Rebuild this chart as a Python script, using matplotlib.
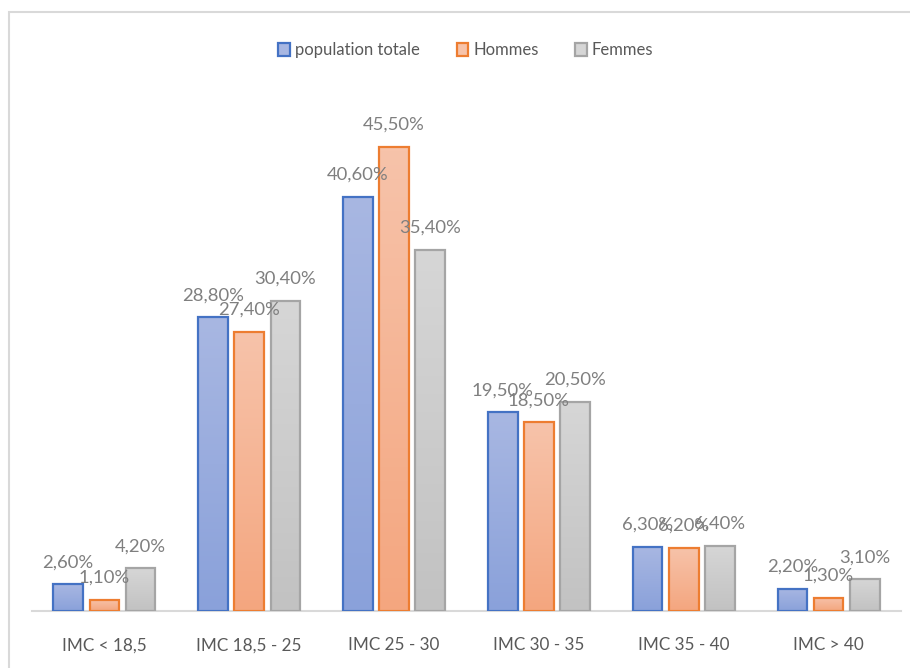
import numpy as np
import matplotlib
matplotlib.use("Agg")
import matplotlib.pyplot as plt
from matplotlib.colors import LinearSegmentedColormap
from matplotlib.patches import Rectangle, Patch

categories = ["IMC < 18,5", "IMC 18,5 - 25", "IMC 25 - 30", "IMC 30 - 35", "IMC 35 - 40", "IMC > 40"]
series = ["population totale", "Hommes", "Femmes"]
pop_totale = [2.6, 28.8, 40.6, 19.5, 6.3, 2.2]
hommes = [1.1, 27.4, 45.5, 18.5, 6.2, 1.3]
femmes = [4.2, 30.4, 35.4, 20.5, 6.4, 3.1]

edge_cols = ["#4472c4", "#ed7d31", "#a5a5a5"]
grad_top = ["#a8b7e2", "#f7c3aa", "#d6d6d6"]
grad_bot = ["#8aa1da", "#f4a67f", "#c2c2c2"]

plt.rcParams["font.family"] = ["Lato", "DejaVu Sans"]

fig = plt.figure(figsize=(9.1, 6.68), dpi=100)
W, H = 910, 668
ax = fig.add_axes([32 / W, (H - 611) / H, (901 - 32) / W, (611 - 101) / H])

x = np.arange(len(categories))
step, bw = 0.25, 0.205
handles = []
for i, vals in enumerate([pop_totale, hommes, femmes]):
    cmap = LinearSegmentedColormap.from_list(f"g{i}", [grad_bot[i], grad_top[i]])
    pos = x + (i - 1) * step
    bars = ax.bar(pos, vals, width=bw, facecolor="none", edgecolor=edge_cols[i],
                  linewidth=1.6, zorder=3)
    for b, v in zip(bars, vals):
        x0 = b.get_x()
        grad = np.linspace(0, 1, 100).reshape(-1, 1)
        im = ax.imshow(grad, cmap=cmap, origin="lower", aspect="auto",
                       extent=[x0, x0 + bw, 0, v], zorder=2)
        im.set_clip_path(b)
        ax.annotate(f"{v:.2f}".replace(".", ",") + "%", (b.get_x() + bw / 2, v),
                    xytext=(0, 10), textcoords="offset points", ha="center",
                    va="bottom", fontsize=13.3, color="#7f7f7f", zorder=4)
    handles.append(Patch(facecolor=grad_top[i], edgecolor=edge_cols[i], linewidth=1.6,
                         label=series[i]))

ax.set_xlim(-0.5, len(categories) - 0.5)
ax.set_ylim(0, 50)
ax.set_xticks(x)
ax.set_xticklabels(categories, fontsize=12.3, color="#595959")
ax.tick_params(axis="x", length=0, pad=19)
ax.set_yticks([])
for s in ["left", "right", "top"]:
    ax.spines[s].set_visible(False)
ax.spines["bottom"].set_color("#d9d9d9")
ax.spines["bottom"].set_linewidth(1.5)

fig.legend(handles=handles, loc="center", bbox_to_anchor=(0.512, (H - 50) / H), ncol=3,
           frameon=False, fontsize=12, labelcolor="#595959", handlelength=0.7,
           handleheight=0.8, handletextpad=0.3, columnspacing=2.2)

fig.patches.append(Rectangle((9 / W, -0.1), 1.2, (H - 12) / H + 0.1, transform=fig.transFigure,
                             facecolor="none", edgecolor="#d9d9d9", linewidth=1.5))

fig.savefig("out.png", dpi=100)
